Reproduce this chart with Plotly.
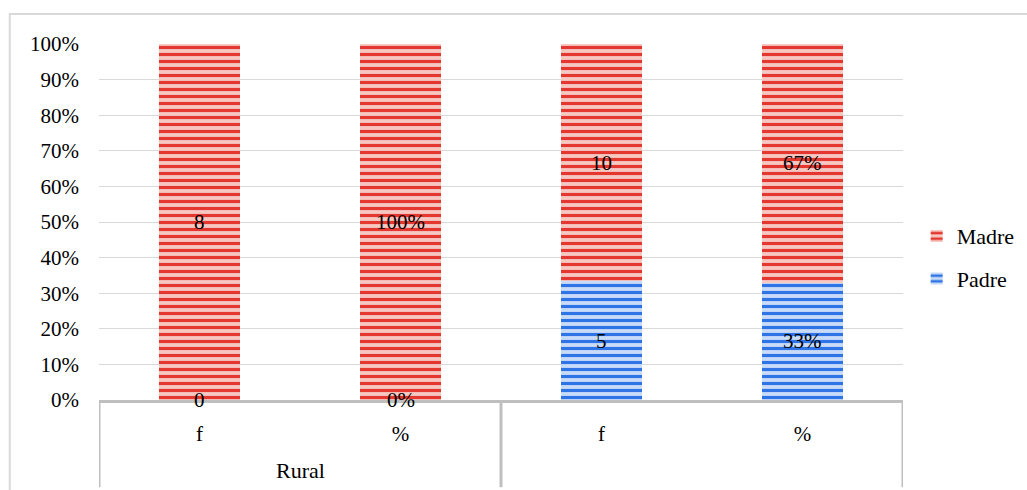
import plotly.graph_objects as go

# Categories: (group, measure)
groups = ["Rural", "Rural", "", ""]
measures = ["f", "%", "f", "%"]

# Values per series (f = count, % = share)
padre = [0, 0, 5, 33]
madre = [8, 100, 10, 67]
padre_labels = ["0", "0%", "5", "33%"]
madre_labels = ["8", "100%", "10", "67%"]

x_pos = list(range(len(measures)))
FONT = "Liberation Serif"
FS = 21

fig = go.Figure()
fig.add_trace(go.Bar(
    x=x_pos, y=padre, name="Padre", width=0.4, legendrank=2, legendgroup="p",
    marker=dict(color="#3a7be8", line=dict(width=0),
                pattern=dict(shape="-", fgcolor="#2f74e6", bgcolor="#c8dbf9",
                             fgopacity=1, size=7, solidity=0.45)),
))
fig.add_trace(go.Bar(
    x=x_pos, y=madre, name="Madre", width=0.4, legendrank=1, legendgroup="m",
    marker=dict(color="#e6423a", line=dict(width=0),
                pattern=dict(shape="-", fgcolor="#e3372f", bgcolor="#f7c7c2",
                             fgopacity=1, size=7, solidity=0.45)),
))

# Value labels centred in each (normalised) segment
for i in x_pos:
    tot = padre[i] + madre[i]
    p = padre[i] / tot * 100
    m = madre[i] / tot * 100
    fig.add_annotation(x=i, y=p / 2, text=padre_labels[i], showarrow=False,
                       font=dict(family=FONT, size=FS, color="#000"))
    fig.add_annotation(x=i, y=p + m / 2, text=madre_labels[i], showarrow=False,
                       font=dict(family=FONT, size=FS, color="#000"))

# Outer group label
fig.add_annotation(x=0.5, y=0, xref="x", yref="paper", yshift=-70,
                   yanchor="middle", text=groups[0], showarrow=False,
                   font=dict(family=FONT, size=22, color="#000"))

# Group dividers below the axis
for xd in [-0.5, 1.5, 3.5]:
    fig.add_shape(type="line", xref="x", yref="paper", x0=xd, x1=xd,
                  y0=0, y1=-0.245, line=dict(color="#bfbfbf", width=3))

# Chart border
fig.add_shape(type="rect", xref="paper", yref="paper",
              x0=-0.111, x1=1.2, y0=-0.3, y1=1.084,
              line=dict(color="#d9d9d9", width=2), layer="below")

fig.update_layout(
    width=1027, height=490,
    margin=dict(l=99, r=124, t=44, b=90, autoexpand=False),
    paper_bgcolor="white", plot_bgcolor="white",
    barmode="stack", barnorm="percent", bargap=0.6,
    font=dict(family=FONT, size=FS, color="#000"),
    legend=dict(x=1.017, y=0.40, xanchor="left", yanchor="middle",
                traceorder="grouped", tracegroupgap=11,
                font=dict(family=FONT, size=22, color="#000"),
                itemwidth=30),
    showlegend=True,
)
fig.update_xaxes(
    tickmode="array", tickvals=x_pos, ticktext=measures,
    range=[-0.5, 3.5], showgrid=False, zeroline=False,
    showline=True, linecolor="#bfbfbf", linewidth=3,
    ticks="", ticklabelstandoff=13,
)
fig.update_yaxes(
    range=[0, 100], dtick=10, ticksuffix="%",
    showgrid=True, gridcolor="#d9d9d9", gridwidth=1,
    zeroline=False, showline=False, ticks="",
    ticklabelstandoff=19,
)

fig.write_html("out.html")
